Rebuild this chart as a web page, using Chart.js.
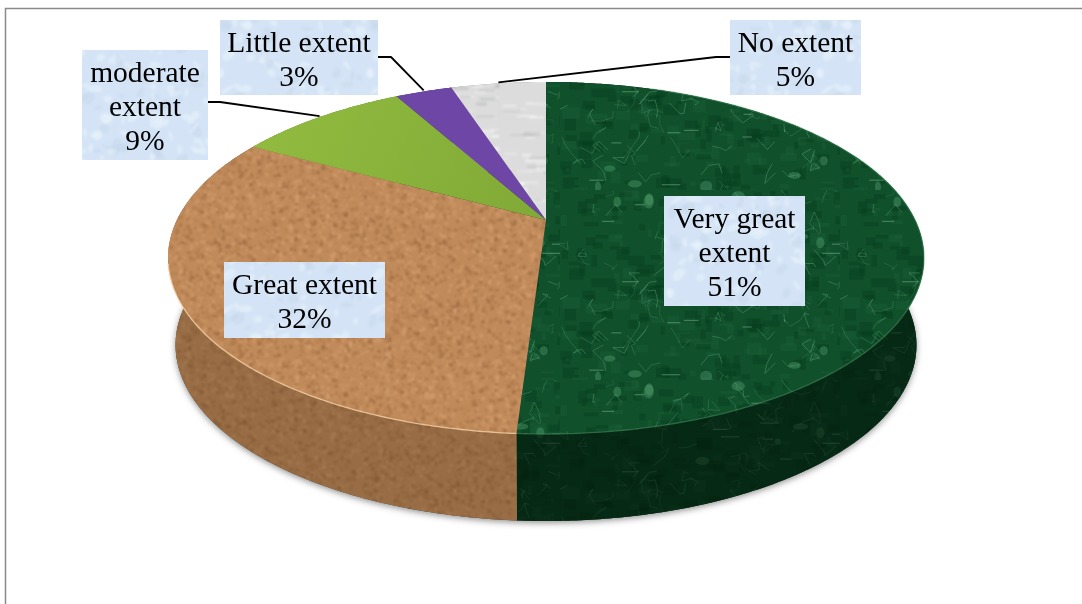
<!DOCTYPE html>
<html>
<head>
<meta charset="utf-8">
<title>Extent of agreement</title>
<script src="https://cdn.jsdelivr.net/npm/chart.js@4/dist/chart.umd.js"></script>
<style>
  html, body { margin: 0; padding: 0; background: #fff; }
  canvas { display: block; }
</style>
</head>
<body>
<canvas id="pie" width="1082" height="604"></canvas>
<script>
// Shares, clockwise from twelve o'clock
const categories = ['Very great extent', 'Great extent', 'moderate extent', 'Little extent', 'No extent'];
const shares = [51, 32, 9, 3, 5];

// Text lines of each callout (the percentage is appended from shares)
const calloutLines = [['Very great', 'extent'], ['Great extent'], ['moderate', 'extent'], ['Little extent'], ['No extent']];
// Callout boxes: left, top, right, bottom
const calloutBoxes = [[664, 196, 805, 306], [224, 262, 385, 338], [82, 50, 208, 160], [220, 20, 378, 95], [730, 20, 861, 95]];
// Leader elbow: box edge point, then bend; null means the callout sits on its slice
const leaderElbows = [null, null, [[208, 102], [220, 102]], [[378, 57], [391, 57]], [[730, 57], [716, 57]]];

// Tilted disc: a circle seen in perspective, with its centre above the ellipse centre
const disc = { cx: 546, apexY: 220, farY: 82, nearY: 434, halfWidth: 378, wall: 87, wallScale: 0.98 };
const tilt = (function () {
  const a = (disc.apexY * 2 - disc.farY - disc.nearY) / (disc.nearY - disc.farY) * -1;
  const b = disc.farY * (1 + a) - disc.apexY;
  return { a: a, b: b, r: disc.halfWidth * Math.sqrt(1 - a * a) };
})();
function rimPoint(angle) {
  const u = Math.cos(angle), v = -Math.sin(angle), w = 1 + tilt.a * v;
  return { x: disc.cx + tilt.r * u / w, y: (disc.apexY + tilt.b * v) / w };
}
function wallPoint(angle) {
  const p = rimPoint(angle);
  return { x: disc.cx + (p.x - disc.cx) * disc.wallScale, y: p.y + disc.wall };
}

// Small deterministic generator for the surface grain
function grain(seed) {
  let s = seed >>> 0;
  return function () {
    s = (s + 0x6D2B79F5) >>> 0;
    let t = s;
    t = Math.imul(t ^ (t >>> 15), t | 1);
    t ^= t + Math.imul(t ^ (t >>> 7), t | 61);
    return ((t ^ (t >>> 14)) >>> 0) / 4294967296;
  };
}
function tile(w, h, base, paint, blur) {
  const layer = document.createElement('canvas');
  layer.width = w; layer.height = h;
  const l = layer.getContext('2d');
  l.fillStyle = base; l.fillRect(0, 0, w, h);
  paint(l, w, h);
  const out = document.createElement('canvas');
  out.width = w; out.height = h;
  const o = out.getContext('2d');
  o.fillStyle = base; o.fillRect(0, 0, w, h);
  o.filter = 'blur(' + blur + 'px)';
  for (const dx of [-w, 0, w]) for (const dy of [-h, 0, h]) o.drawImage(layer, dx, dy);
  return out;
}
const marbleTile = tile(280, 190, '#10502b', function (l, w, h) {
  const r = grain(11);
  // dark and light mottling
  for (let i = 0; i < 260; i++) {
    l.fillStyle = r() < 0.55 ? 'rgba(6,58,26,0.34)' : 'rgba(40,112,72,0.2)';
    l.fillRect(r() * w, r() * h, 4 + r() * 14, 3 + r() * 10);
  }
  // paler flecks
  for (let i = 0; i < 14; i++) {
    l.fillStyle = 'rgba(84,158,112,0.42)';
    l.beginPath();
    l.ellipse(r() * w, r() * h, 3 + r() * 5, 3 + r() * 4, 0, 0, Math.PI * 2);
    l.fill();
  }
  // veins
  l.lineWidth = 0.8;
  for (let i = 0; i < 90; i++) {
    l.strokeStyle = 'rgba(104,176,132,' + (0.2 + r() * 0.32) + ')';
    let x = r() * w, y = r() * h;
    l.beginPath(); l.moveTo(x, y);
    for (let k = 0; k < 3; k++) { x += (r() - 0.5) * 24; y += (r() - 0.5) * 24; l.lineTo(x, y); }
    l.stroke();
  }
  // short level streaks
  for (let i = 0; i < 18; i++) {
    l.fillStyle = 'rgba(124,188,148,0.45)';
    l.fillRect(r() * w, r() * h, 8 + r() * 12, 1.2);
  }
}, 0.75);
const corkTile = tile(200, 180, '#c08a5a', function (l, w, h) {
  const r = grain(23);
  for (let i = 0; i < 2400; i++) {
    const pick = r();
    l.fillStyle = pick < 0.42 ? 'rgba(158,104,64,0.46)' : pick < 0.9 ? 'rgba(220,168,122,0.46)' : 'rgba(124,78,44,0.42)';
    l.beginPath();
    l.arc(r() * w, r() * h, 0.7 + r() * 1.3, 0, Math.PI * 2);
    l.fill();
  }
}, 0.8);
const paperTile = tile(100, 120, '#dcdcdc', function (l, w, h) {
  const r = grain(37);
  for (let i = 0; i < 80; i++) {
    l.fillStyle = r() < 0.45 ? 'rgba(176,178,178,0.42)' : 'rgba(244,244,244,0.6)';
    l.fillRect(r() * w, r() * h, 6 + r() * 20, 1 + r() * 2.5);
  }
}, 1.1);
const frostTile = tile(150, 110, '#d4e4f6', function (l, w, h) {
  const r = grain(53);
  for (let i = 0; i < 100; i++) {
    l.fillStyle = r() < 0.6 ? 'rgba(232,242,252,0.55)' : 'rgba(196,212,232,0.4)';
    l.beginPath();
    l.ellipse(r() * w, r() * h, 2 + r() * 6, 1.5 + r() * 4, r() * 3, 0, Math.PI * 2);
    l.fill();
  }
}, 1.3);

const ctxMain = document.getElementById('pie').getContext('2d');
const leafShade = ctxMain.createLinearGradient(260, 100, 540, 220);
leafShade.addColorStop(0, '#92bb40');
leafShade.addColorStop(1, '#80aa36');
const surfaces = [
  ctxMain.createPattern(marbleTile, 'repeat'),
  ctxMain.createPattern(corkTile, 'repeat'),
  leafShade,
  '#6d46a6',
  ctxMain.createPattern(paperTile, 'repeat')
];
const wallShade = ['rgba(0,14,5,0.58)', 'rgba(70,50,25,0.33)', 'rgba(0,0,0,0.3)', 'rgba(0,0,0,0.3)', 'rgba(0,0,0,0.3)'];
const rimLight = ['rgba(70,140,95,0.55)', 'rgba(250,214,170,0.8)', 'rgba(190,150,90,0)', 'rgba(220,200,240,0)', 'rgba(225,215,240,0)'];
const frost = ctxMain.createPattern(frostTile, 'repeat');

function traceRim(ctx, start, end, at, reversed) {
  const steps = Math.max(2, Math.ceil((end - start) / 0.01));
  for (let i = 0; i <= steps; i++) {
    const t = reversed ? 1 - i / steps : i / steps;
    const p = at(start + (end - start) * t);
    ctx.lineTo(p.x, p.y);
  }
}
function traceWall(ctx, arc) {
  ctx.beginPath();
  traceRim(ctx, arc.startAngle, arc.endAngle, rimPoint, false);
  traceRim(ctx, arc.startAngle, arc.endAngle, wallPoint, true);
  ctx.closePath();
}

// Draws the library's arc elements as a tilted disc with a side wall
const tiltedDisc = {
  id: 'tiltedDisc',
  beforeDatasetsDraw(chart) {
    const ctx = chart.ctx;
    const arcs = chart.getDatasetMeta(0).data;

    // frame
    ctx.save();
    ctx.strokeStyle = '#8a8a8a';
    ctx.lineWidth = 1.5;
    ctx.beginPath();
    ctx.moveTo(5.5, 604); ctx.lineTo(5.5, 8.5); ctx.lineTo(1082, 8.5);
    ctx.stroke();
    ctx.restore();

    // ground shadow
    ctx.save();
    ctx.shadowColor = 'rgba(40,40,40,0.5)';
    ctx.shadowBlur = 6;
    ctx.shadowOffsetY = 2;
    ctx.fillStyle = '#333';
    ctx.beginPath();
    traceRim(ctx, 0, Math.PI * 2, wallPoint, false);
    ctx.closePath();
    ctx.fill();
    ctx.restore();

    // side walls
    arcs.forEach(function (arc, i) {
      ctx.save();
      traceWall(ctx, arc);
      ctx.fillStyle = surfaces[i];
      ctx.fill();
      ctx.fillStyle = wallShade[i];
      ctx.fill();
      ctx.restore();
    });

    // top faces
    arcs.forEach(function (arc, i) {
      ctx.save();
      ctx.beginPath();
      ctx.moveTo(disc.cx, disc.apexY);
      traceRim(ctx, arc.startAngle, arc.endAngle, rimPoint, false);
      ctx.closePath();
      ctx.fillStyle = surfaces[i];
      ctx.fill();
      ctx.restore();
    });

    // bevel light along the front rim only
    const quarter = Math.PI / 2;
    arcs.forEach(function (arc, i) {
      const from = Math.max(arc.startAngle, -quarter + 0.35);
      const to = Math.min(arc.endAngle, Math.PI - 0.25);
      if (to <= from) return;
      ctx.save();
      ctx.beginPath();
      traceRim(ctx, from, to, rimPoint, false);
      ctx.strokeStyle = rimLight[i];
      ctx.lineWidth = 1.3;
      ctx.stroke();
      ctx.restore();
    });

    // leaders, ending at the middle of each outer slice edge
    arcs.forEach(function (arc, i) {
      const elbow = leaderElbows[i];
      if (!elbow) return;
      const tip = rimPoint((arc.startAngle + arc.endAngle) / 2);
      ctx.save();
      ctx.strokeStyle = '#000';
      ctx.lineWidth = 1.8;
      ctx.lineJoin = 'round';
      ctx.beginPath();
      ctx.moveTo(elbow[0][0], elbow[0][1]);
      ctx.lineTo(elbow[1][0], elbow[1][1]);
      ctx.lineTo(tip.x, tip.y - 1);
      ctx.stroke();
      ctx.restore();
    });

    // callouts
    categories.forEach(function (name, i) {
      const box = calloutBoxes[i];
      const lines = calloutLines[i].concat(shares[i] + '%');
      const mid = (box[0] + box[2]) / 2;
      const centre = (box[1] + box[3]) / 2;
      ctx.save();
      ctx.fillStyle = frost;
      ctx.fillRect(box[0], box[1], box[2] - box[0], box[3] - box[1]);
      ctx.fillStyle = '#000';
      ctx.font = '29.5px "Liberation Serif", "Times New Roman", serif';
      ctx.textAlign = 'center';
      ctx.textBaseline = 'alphabetic';
      lines.forEach(function (line, k) {
        ctx.fillText(line, mid, centre + 11 + (k - (lines.length - 1) / 2) * 34);
      });
      ctx.restore();
    });

    return false;
  }
};

new Chart(ctxMain, {
  type: 'pie',
  data: {
    labels: categories,
    datasets: [{ data: shares, backgroundColor: ['#10502b', '#c08a5a', '#8cb53c', '#6d46a6', '#dcdcdc'], borderWidth: 0 }]
  },
  options: {
    responsive: false,
    animation: false,
    events: [],
    plugins: { legend: { display: false }, title: { display: false }, tooltip: { enabled: false } }
  },
  plugins: [tiltedDisc]
});
</script>
</body>
</html>
